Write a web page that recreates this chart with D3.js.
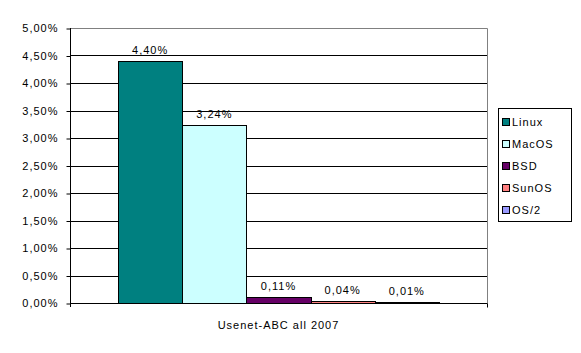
<!DOCTYPE html>
<html>
<head>
<meta charset="utf-8">
<script src="https://cdn.jsdelivr.net/npm/d3@7"></script>
<style>
  body { margin: 0; background: #fff; }
  svg text { font-family: "Liberation Sans", Arial, sans-serif; font-size: 11px; letter-spacing: 1px; fill: #000; }
</style>
</head>
<body>
<svg width="581" height="353"></svg>
<script>
const svg = d3.select('svg')

// data
const category = "Usenet-ABC all 2007";
const systems = ["Linux", "MacOS", "BSD", "SunOS", "OS/2"];
const shares = [4.40, 3.24, 0.11, 0.04, 0.01];
const colors = ["#008080", "#CCFFFF", "#660066", "#FF8080", "#9999FF"];
const yTicks = [0, 0.5, 1, 1.5, 2, 2.5, 3, 3.5, 4, 4.5, 5];

const fmt = v => v.toFixed(2).replace(".", ",") + "%";

const pL = 70, pR = 487, pT = 28, pB = 303;

const y = d3.scaleLinear().domain([0, 5]).range([pB, pT]);
const x0 = d3.scaleBand().domain([category]).range([pL, pR]);
// Excel gap width 150% -> 0.75 bar width on each side
const x = d3.scaleBand().domain(systems)
  .range([pL + (pR - pL) * 0.75 / 6.5, pR - (pR - pL) * 0.75 / 6.5]);

const g = svg.append('g');

// gridlines
g.selectAll('line.grid').data(yTicks.filter(t => t > 0 && t < 5))
  .enter().append('line')
  .attr('x1', pL).attr('x2', pR)
  .attr('y1', d => Math.round(y(d)) + 0.5).attr('y2', d => Math.round(y(d)) + 0.5)
  .attr('stroke', '#000');

// plot border (top / right gray)
g.append('path')
  .attr('d', `M${pL},${pT + 0.5}H${pR + 0.5}V${pB}`)
  .attr('fill', 'none').attr('stroke', '#808080');

// bars
g.selectAll('rect.bar').data(systems)
  .enter().append('rect')
  .attr('x', d => Math.round(x(d)) + 0.5)
  .attr('width', d => Math.round(x(d) + x.bandwidth()) - Math.round(x(d)))
  .attr('y', (d, i) => Math.round(y(shares[i])) + 0.5)
  .attr('height', (d, i) => pB - Math.round(y(shares[i])))
  .attr('fill', (d, i) => colors[i])
  .attr('stroke', '#000');

// value labels
g.selectAll('text.val').data(systems)
  .enter().append('text')
  .attr('x', d => x(d) + x.bandwidth() / 2)
  .attr('y', (d, i) => y(shares[i]) - 7)
  .attr('text-anchor', 'middle')
  .text((d, i) => fmt(shares[i]));

// y axis
const yAxis = d3.axisLeft(y).tickValues(yTicks).tickSize(4).tickFormat(fmt);
const ya = g.append('g').attr('transform', `translate(${pL + 0.5},0)`).call(yAxis);
ya.select('.domain').attr('d', `M0,${pT}V${pB + 4}`).attr('stroke', '#000');
ya.selectAll('.tick line').attr('stroke', '#000').attr('transform', 'translate(0,0.5)');
ya.selectAll('.tick text').attr('x', -12).attr('dy', '0.35em')
  .style('font-family', '"Liberation Sans", Arial, sans-serif').style('font-size', '11px');

// x axis
const xa = g.append('g').attr('transform', `translate(0,${pB + 0.5})`);
xa.append('path').attr('d', `M${pL},0H${pR + 0.5}M${pR + 0.5},0V4`).attr('stroke', '#000');
xa.append('text')
  .attr('x', x0(category) + x0.bandwidth() / 2)
  .attr('y', 25)
  .attr('text-anchor', 'middle')
  .text(category);

// legend
const lg = svg.append('g').attr('transform', 'translate(498,108)');
lg.append('rect').attr('x', 0.5).attr('y', 0.5).attr('width', 73).attr('height', 113)
  .attr('fill', '#fff').attr('stroke', '#000');
const items = lg.selectAll('g.item').data(systems).enter().append('g')
  .attr('transform', (d, i) => `translate(0,${14 + i * 22})`);
items.append('rect').attr('x', 4.5).attr('y', -3.5).attr('width', 7).attr('height', 7)
  .attr('fill', (d, i) => colors[i]).attr('stroke', '#000');
items.append('text').attr('x', 14).attr('dy', '0.35em').text(d => d);
</script>
</body>
</html>
